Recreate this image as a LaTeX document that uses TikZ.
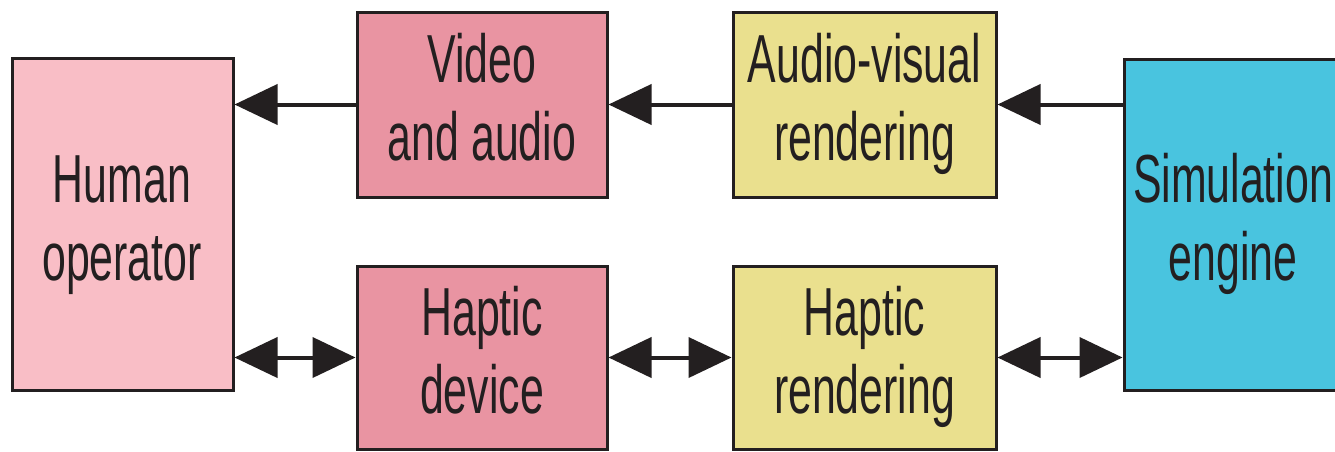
\documentclass[tikz,border=0pt]{standalone}
\usepackage{fontspec}
\newfontfamily\cf[FakeStretch=0.63]{Liberation Sans}
\usetikzlibrary{arrows.meta,calc}
\definecolor{hop}{HTML}{F9BEC6}
\definecolor{dev}{HTML}{E994A2}
\definecolor{ren}{HTML}{EAE08E}
\definecolor{sim}{HTML}{49C4DF}
\definecolor{ink}{HTML}{231F20}
\begin{document}
\begin{tikzpicture}[x=1pt,y=-1pt,
  blk/.style={draw=ink, line width=3pt, inner sep=0pt},
  txt/.style={font=\cf\fontsize{68}{78}\selectfont, text=ink, inner sep=0pt, anchor=base},
  tip/.tip={Triangle[length=43pt,width=40pt]},
  arr/.style={draw=ink, line width=4pt, -tip},
  darr/.style={draw=ink, line width=4pt, tip-tip}]
\useasboundingbox (0,0) rectangle (1335,451);
\clip (0,0) rectangle (1335,451);
\node[blk, fill=hop, minimum width=221pt, minimum height=332pt] (ho) at (122.5,224) {};
\node[blk, fill=dev, minimum width=250pt, minimum height=185pt] (va) at (482,104.5) {};
\node[blk, fill=ren, minimum width=263pt, minimum height=185pt] (av) at (864.5,104.5) {};
\node[blk, fill=dev, minimum width=250pt, minimum height=183pt] (hd) at (482,357.5) {};
\node[blk, fill=ren, minimum width=263pt, minimum height=183pt] (hr) at (864.5,357.5) {};
\node[blk, fill=sim, minimum width=226pt, minimum height=331pt] (se) at (1237,224.5) {};
% texts
\node[txt] (ho1) at (122,202) {Human};
\node[txt] (ho2) at (122,280) {operator};
\node[txt] (va1) at (482,82.5) {Video};
\node[txt] (va2) at (482,160.5) {and audio};
\node[txt] (av1) at (864.5,82.5) {Audio-visual};
\node[txt] (av2) at (864.5,160.5) {rendering};
\node[txt] (hd1) at (482,335.5) {Haptic};
\node[txt] (hd2) at (482,413.5) {device};
\node[txt] (hr1) at (864.5,335.5) {Haptic};
\node[txt] (hr2) at (864.5,413.5) {rendering};
\node[txt] (se1) at (1233,202.5) {Simulation};
\node[txt] (se2) at (1233,280.5) {engine};
% connectors
\draw[arr] (va.west) -- (va.west -| ho.east);
\draw[arr] (av.west) -- (va.east);
\draw[arr] (av.east -| se.west) -- (av.east);
\draw[darr] (hd.west -| ho.east) -- (hd.west);
\draw[darr] (hd.east) -- (hr.west);
\draw[darr] (hr.east) -- (hr.east -| se.west);
\end{tikzpicture}
\end{document}
